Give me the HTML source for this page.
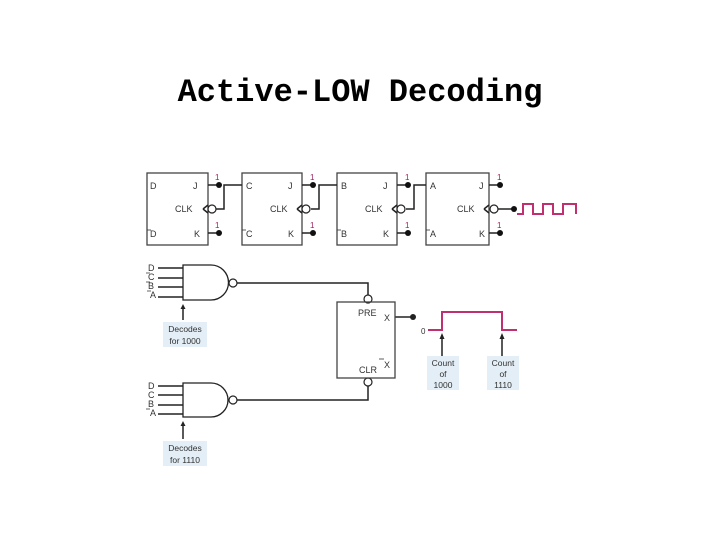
<!DOCTYPE html>
<html><head><style>body{margin:0;background:#fff}svg{display:block}</style></head><body>
<svg width="720" height="540" viewBox="0 0 720 540" xmlns="http://www.w3.org/2000/svg" font-family="Liberation Sans, sans-serif">
<text x="360" y="101" text-anchor="middle" font-family="Liberation Mono, monospace" font-weight="bold" font-size="32" fill="#000">Active-LOW Decoding</text>
<g stroke="#444" stroke-width="1.3" fill="none">
<rect x="147" y="173" width="61" height="72"/>
<rect x="242" y="173" width="60" height="72"/>
<rect x="337" y="173" width="60" height="72"/>
<rect x="426" y="173" width="63" height="72"/>
</g>
<g font-size="9" fill="#333">
<text x="150" y="189">D</text><text x="193" y="189">J</text><text x="175" y="212">CLK</text><text x="150" y="237">D</text><text x="194" y="237">K</text>
<text x="246" y="189">C</text><text x="288" y="189">J</text><text x="270" y="212">CLK</text><text x="246" y="237">C</text><text x="288" y="237">K</text>
<text x="341" y="189">B</text><text x="383" y="189">J</text><text x="365" y="212">CLK</text><text x="341" y="237">B</text><text x="383" y="237">K</text>
<text x="430" y="189">A</text><text x="479" y="189">J</text><text x="457" y="212">CLK</text><text x="430" y="237">A</text><text x="479" y="237">K</text>
</g>
<g stroke="#333" stroke-width="0.8"><line x1="147" y1="230" x2="151" y2="230"/><line x1="242" y1="230" x2="246" y2="230"/><line x1="337" y1="230" x2="341" y2="230"/><line x1="426" y1="230" x2="430" y2="230"/></g>
<g fill="#a02060" font-size="8">
<text x="215" y="180">1</text><text x="215" y="228">1</text>
<text x="310" y="180">1</text><text x="310" y="228">1</text>
<text x="405" y="180">1</text><text x="405" y="228">1</text>
<text x="497" y="180">1</text><text x="497" y="228">1</text>
</g>
<g stroke="#222" stroke-width="1.5" fill="none">
<path d="M208 185h10M208 233h10M302 185h10M302 233h10M397 185h10M397 233h10M489 185h10M489 233h10"/>
<path d="M203 209l5-4M203 209l5 4M297 209l5-4M297 209l5 4M392 209l5-4M392 209l5 4M484 209l5-4M484 209l5 4"/>
<path d="M216 209h8v-24h18M311 209h8v-24h18M406 209h8v-24h12M498 209h15"/>
</g>
<g stroke="#222" stroke-width="1.2" fill="#fff"><circle cx="212" cy="209" r="4"/><circle cx="306" cy="209" r="4"/><circle cx="401" cy="209" r="4"/><circle cx="494" cy="209" r="4"/></g>
<g fill="#111"><circle cx="219" cy="185" r="3"/><circle cx="219" cy="233" r="3"/><circle cx="313" cy="185" r="3"/><circle cx="313" cy="233" r="3"/><circle cx="408" cy="185" r="3"/><circle cx="408" cy="233" r="3"/><circle cx="500" cy="185" r="3"/><circle cx="500" cy="233" r="3"/><circle cx="514" cy="209" r="3"/></g>
<path d="M517 214h6v-10h10v10h10v-10h10v10h10v-10h13v10" stroke="#c03070" stroke-width="2" fill="none"/>
<g stroke="#222" stroke-width="1.3" fill="#fff">
<path d="M183 265h28a17.5 17.5 0 0 1 0 35h-28z"/>
<path d="M183 383h28a17 17 0 0 1 0 34h-28z"/>
</g>
<g stroke="#222" stroke-width="1.5" fill="none">
<path d="M158 268h25M158 278h25M158 287h25M158 297h25"/>
<path d="M158 386h25M158 395h25M158 405h25M158 414h25"/>
<path d="M237 283h131v14M237 400h131v-14M395 317h18"/>
<path d="M183 320v-14M183 439v-14M442 356v-20M502 356v-20"/>
</g>
<g fill="#222"><path d="M183 304l-2.5 5h5zM183 421l-2.5 5h5zM442 333l-2.5 6h5zM502 333l-2.5 6h5z"/><circle cx="413" cy="317" r="3"/></g>
<g stroke="#222" stroke-width="1.2" fill="#fff"><circle cx="233" cy="283" r="4"/><circle cx="233" cy="400" r="4"/><circle cx="368" cy="299" r="4"/><circle cx="368" cy="382" r="4"/></g>
<g font-size="9" fill="#333">
<text x="148" y="271">D</text><text x="148" y="280">C</text><text x="148" y="289">B</text><text x="150" y="298">A</text>
<text x="148" y="389">D</text><text x="148" y="398">C</text><text x="148" y="407">B</text><text x="150" y="416">A</text>
</g>
<g stroke="#333" stroke-width="0.8"><path d="M146 273h4M146 282h4M147 291h4M146 409h4"/></g>
<rect x="337" y="302" width="58" height="76" fill="none" stroke="#444" stroke-width="1.3"/>
<g font-size="9" fill="#333"><text x="358" y="316">PRE</text><text x="384" y="321">X</text><text x="359" y="373">CLR</text><text x="384" y="368">X</text><text x="421" y="334" font-size="8">0</text></g>
<line x1="379" y1="359" x2="384" y2="359" stroke="#333" stroke-width="0.8"/>
<path d="M428 330h14v-18h60v18h15" stroke="#c03070" stroke-width="2" fill="none"/>
<g fill="#e3eef6"><rect x="163" y="322" width="44" height="25"/><rect x="163" y="441" width="44" height="25"/><rect x="427" y="356" width="32" height="34"/><rect x="487" y="356" width="32" height="34"/></g>
<g font-size="8.5" fill="#333" text-anchor="middle">
<text x="185" y="332">Decodes</text><text x="185" y="344">for 1000</text>
<text x="185" y="451">Decodes</text><text x="185" y="463">for 1110</text>
<text x="443" y="366">Count</text><text x="443" y="377">of</text><text x="443" y="388">1000</text>
<text x="503" y="366">Count</text><text x="503" y="377">of</text><text x="503" y="388">1110</text>
</g>
</svg>
</body></html>
